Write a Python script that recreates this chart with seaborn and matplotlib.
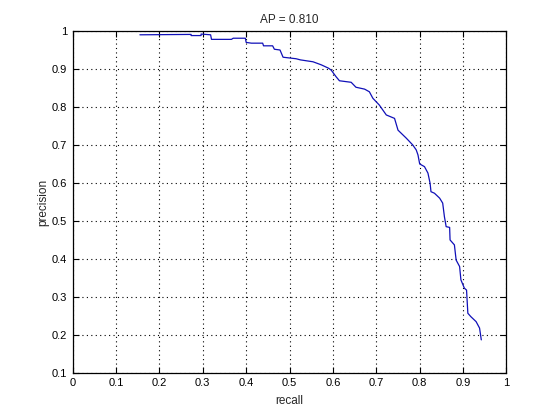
import matplotlib
matplotlib.use('Agg')
from matplotlib import pyplot as plt
import pandas as pd
import numpy as np
import seaborn as sns

# precision-recall curve points
recall = [0.155, 0.273, 0.273, 0.296, 0.296, 0.318, 0.320, 0.366, 0.370, 0.398,
          0.400, 0.412, 0.438, 0.440, 0.461, 0.465, 0.478, 0.485, 0.515, 0.525,
          0.554, 0.573, 0.590, 0.596, 0.607, 0.615, 0.642, 0.653, 0.673, 0.684,
          0.692, 0.707, 0.723, 0.742, 0.750, 0.769, 0.784, 0.792, 0.796, 0.800,
          0.811, 0.819, 0.824, 0.826, 0.834, 0.846, 0.853, 0.857, 0.861, 0.869,
          0.870, 0.880, 0.884, 0.892, 0.895, 0.903, 0.908, 0.911, 0.918, 0.930,
          0.938, 0.942]
precision = [0.990, 0.991, 0.988, 0.988, 0.992, 0.990, 0.978, 0.978, 0.981, 0.981,
             0.970, 0.968, 0.968, 0.961, 0.961, 0.952, 0.950, 0.931, 0.927, 0.924,
             0.919, 0.911, 0.902, 0.897, 0.880, 0.869, 0.865, 0.852, 0.847, 0.840,
             0.823, 0.805, 0.779, 0.770, 0.739, 0.718, 0.700, 0.687, 0.674, 0.650,
             0.643, 0.626, 0.599, 0.577, 0.573, 0.560, 0.547, 0.511, 0.485, 0.483,
             0.450, 0.437, 0.397, 0.380, 0.345, 0.323, 0.318, 0.257, 0.248, 0.235,
             0.218, 0.187]
ap = 0.810

xticks = np.round(np.arange(0, 1.01, 0.1), 1)
yticks = np.round(np.arange(0.1, 1.01, 0.1), 1)
xlabels = ['0', '0.1', '0.2', '0.3', '0.4', '0.5', '0.6', '0.7', '0.8', '0.9', '1']
ylabels = ['0.1', '0.2', '0.3', '0.4', '0.5', '0.6', '0.7', '0.8', '0.9', '1']

sns.set_style('ticks')
plt.rcParams['font.family'] = ['Liberation Sans', 'DejaVu Sans']

df = pd.DataFrame({'recall': recall, 'precision': precision})

fig = plt.figure(figsize=(5.59, 4.19), dpi=100)
ax = fig.add_axes([0.13, 0.11, 0.776, 0.816])
sns.lineplot(data=df, x='recall', y='precision', sort=False, estimator=None,
             color='#1010b8', linewidth=0.9, ax=ax)

ax.set_xlim(0, 1)
ax.set_ylim(0.1, 1)
ax.set_xticks(xticks)
ax.set_xticklabels(xlabels)
ax.set_yticks(yticks)
ax.set_yticklabels(ylabels)
ax.grid(True, linestyle=(0, (1, 3)), color='black', linewidth=0.8)
ax.tick_params(direction='in', length=4, width=0.8, top=True, right=True,
               labelsize=8, colors='black', pad=4)
for s in ax.spines.values():
    s.set_visible(True)
    s.set_color('black')
    s.set_linewidth(0.9)
ax.set_title('AP = %.3f' % ap, fontsize=8.5, pad=6)
ax.set_xlabel('recall', fontsize=8.5, labelpad=5)
ax.set_ylabel('precision', fontsize=8.5, labelpad=2)

plt.savefig('out.png', dpi=100)
